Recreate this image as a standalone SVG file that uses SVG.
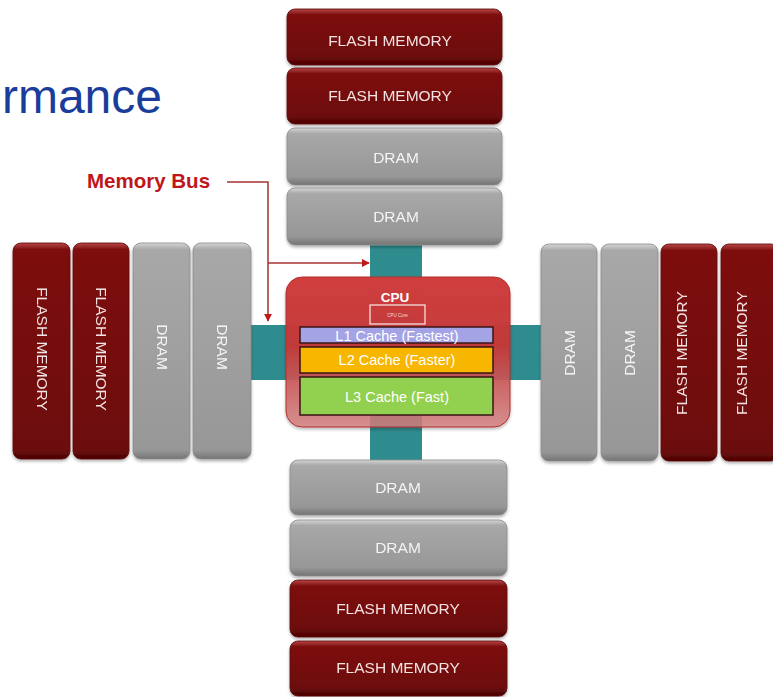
<svg xmlns="http://www.w3.org/2000/svg" width="773" height="697" viewBox="0 0 773 697">
<style>
.lbl{font-family:"Liberation Sans",Arial,sans-serif;font-size:15.5px;text-anchor:middle}
.fl{fill:#f3e2e2}
.dr{fill:#f4f4f4}
.cache{font-family:"Liberation Sans",Arial,sans-serif;font-size:14.5px;text-anchor:middle;fill:#ffffff}
.cstroke{stroke:#3a1414;stroke-width:1.5}
.bus{fill:#2f8c8e}
.conn{fill:none;stroke:#a83232;stroke-width:1.5}
.fbox{stroke:#5a0a0a;stroke-width:0.8}
.gbox{stroke:#8a8a8a;stroke-width:0.8}
</style>
<defs>
<linearGradient id="gRedH" x1="0" y1="0" x2="0" y2="1">
<stop offset="0" stop-color="#b84848"/><stop offset="0.1" stop-color="#7e1010"/><stop offset="0.85" stop-color="#6c0909"/><stop offset="1" stop-color="#4a0404"/>
</linearGradient>
<linearGradient id="gGrayH" x1="0" y1="0" x2="0" y2="1">
<stop offset="0" stop-color="#d6d6d6"/><stop offset="0.1" stop-color="#a8a8a8"/><stop offset="0.85" stop-color="#979797"/><stop offset="1" stop-color="#747474"/>
</linearGradient>
<linearGradient id="gRedV" x1="0" y1="0" x2="0" y2="1">
<stop offset="0" stop-color="#b84848"/><stop offset="0.03" stop-color="#7e1010"/><stop offset="0.96" stop-color="#6c0909"/><stop offset="1" stop-color="#4a0404"/>
</linearGradient>
<linearGradient id="gGrayV" x1="0" y1="0" x2="0" y2="1">
<stop offset="0" stop-color="#d6d6d6"/><stop offset="0.03" stop-color="#a8a8a8"/><stop offset="0.96" stop-color="#979797"/><stop offset="1" stop-color="#747474"/>
</linearGradient>
<linearGradient id="gCpu" x1="0" y1="0" x2="0" y2="1">
<stop offset="0" stop-color="#d03e3e" stop-opacity="1"/><stop offset="0.45" stop-color="#c43838" stop-opacity="0.97"/><stop offset="1" stop-color="#d48080" stop-opacity="0.82"/>
</linearGradient>
<filter id="sh" x="-10%" y="-10%" width="120%" height="130%">
<feDropShadow dx="0" dy="2" stdDeviation="1.5" flood-color="#000" flood-opacity="0.3"/>
</filter>
<marker id="ah" viewBox="0 0 10 10" refX="9" refY="5" markerWidth="8" markerHeight="8" markerUnits="userSpaceOnUse" orient="auto">
<path d="M0,0 L10,5 L0,10 z" fill="#c01818"/>
</marker>
</defs>
<rect width="773" height="697" fill="#ffffff"/>

<text x="162" y="113" font-family="'Liberation Sans',Arial,sans-serif" font-size="48" fill="#1a3d9c" text-anchor="end">rmance</text>

<g id="bus">
<rect class="bus" x="370" y="240" width="52" height="225"/>
<rect class="bus" x="248" y="325" width="296" height="55"/>
</g>

<g id="connectors">
<text x="87" y="188" font-family="'Liberation Sans',Arial,sans-serif" font-size="20.5" font-weight="bold" fill="#c0161b">Memory Bus</text>
<path class="conn" d="M227,182 H268 V321" marker-end="url(#ah)"/>
<path class="conn" d="M268,263 H369" marker-end="url(#ah)"/>
</g>

<!-- top stack -->
<g id="top-flash-1" filter="url(#sh)"><rect class="fbox" x="287" y="9" width="215" height="56" rx="8" fill="url(#gRedH)"/><text class="lbl fl" x="390" y="46">FLASH MEMORY</text></g>
<g id="top-flash-2" filter="url(#sh)"><rect class="fbox" x="287" y="68" width="215" height="56" rx="8" fill="url(#gRedH)"/><text class="lbl fl" x="390" y="101">FLASH MEMORY</text></g>
<g id="top-dram-1" filter="url(#sh)"><rect class="gbox" x="287" y="128" width="215" height="57" rx="8" fill="url(#gGrayH)"/><text class="lbl dr" x="396" y="163">DRAM</text></g>
<g id="top-dram-2" filter="url(#sh)"><rect class="gbox" x="287" y="188" width="215" height="57" rx="8" fill="url(#gGrayH)"/><text class="lbl dr" x="396" y="222">DRAM</text></g>

<!-- bottom stack -->
<g id="bottom-dram-1" filter="url(#sh)"><rect class="gbox" x="290" y="460" width="217" height="55" rx="8" fill="url(#gGrayH)"/><text class="lbl dr" x="398" y="493">DRAM</text></g>
<g id="bottom-dram-2" filter="url(#sh)"><rect class="gbox" x="290" y="520" width="217" height="56" rx="8" fill="url(#gGrayH)"/><text class="lbl dr" x="398" y="553">DRAM</text></g>
<g id="bottom-flash-1" filter="url(#sh)"><rect class="fbox" x="290" y="580" width="217" height="57" rx="8" fill="url(#gRedH)"/><text class="lbl fl" x="398" y="614">FLASH MEMORY</text></g>
<g id="bottom-flash-2" filter="url(#sh)"><rect class="fbox" x="290" y="641" width="217" height="55" rx="8" fill="url(#gRedH)"/><text class="lbl fl" x="398" y="673">FLASH MEMORY</text></g>

<!-- left stack -->
<g id="left-flash-1" filter="url(#sh)"><rect class="fbox" x="13" y="243" width="57" height="216" rx="8" fill="url(#gRedV)"/><text class="lbl fl" transform="translate(42,349) rotate(90)" x="0" y="5.5">FLASH MEMORY</text></g>
<g id="left-flash-2" filter="url(#sh)"><rect class="fbox" x="73" y="243" width="56" height="216" rx="8" fill="url(#gRedV)"/><text class="lbl fl" transform="translate(101,349) rotate(90)" x="0" y="5.5">FLASH MEMORY</text></g>
<g id="left-dram-1" filter="url(#sh)"><rect class="gbox" x="133" y="243" width="57" height="216" rx="8" fill="url(#gGrayV)"/><text class="lbl dr" transform="translate(162,347) rotate(90)" x="0" y="5.5">DRAM</text></g>
<g id="left-dram-2" filter="url(#sh)"><rect class="gbox" x="193" y="243" width="58" height="216" rx="8" fill="url(#gGrayV)"/><text class="lbl dr" transform="translate(222,347) rotate(90)" x="0" y="5.5">DRAM</text></g>

<!-- right stack -->
<g id="right-dram-1" filter="url(#sh)"><rect class="gbox" x="541" y="244" width="56" height="217" rx="8" fill="url(#gGrayV)"/><text class="lbl dr" transform="translate(569,353) rotate(-90)" x="0" y="5.5">DRAM</text></g>
<g id="right-dram-2" filter="url(#sh)"><rect class="gbox" x="601" y="244" width="57" height="217" rx="8" fill="url(#gGrayV)"/><text class="lbl dr" transform="translate(629,353) rotate(-90)" x="0" y="5.5">DRAM</text></g>
<g id="right-flash-1" filter="url(#sh)"><rect class="fbox" x="661" y="244" width="56" height="217" rx="8" fill="url(#gRedV)"/><text class="lbl fl" transform="translate(681,353) rotate(-90)" x="0" y="5.5">FLASH MEMORY</text></g>
<g id="right-flash-2" filter="url(#sh)"><rect class="fbox" x="721" y="244" width="58" height="217" rx="8" fill="url(#gRedV)"/><text class="lbl fl" transform="translate(741,353) rotate(-90)" x="0" y="5.5">FLASH MEMORY</text></g>

<!-- CPU -->
<g id="cpu">
<rect x="286" y="277" width="224" height="150" rx="16" fill="url(#gCpu)" stroke="#b03030" stroke-width="1" filter="url(#sh)"/>
<text x="395" y="302" font-family="'Liberation Sans',Arial,sans-serif" font-size="13.5" font-weight="bold" fill="#ffffff" text-anchor="middle">CPU</text>
<rect x="370" y="305" width="55" height="19" fill="none" stroke="#f4dede" stroke-width="1.3"/>
<text x="397.5" y="317" font-family="'Liberation Sans',Arial,sans-serif" font-size="4.5" fill="#f4dede" text-anchor="middle">CPU Core</text>
</g>
<g id="l1-cache"><rect class="cstroke" x="300" y="327" width="193" height="16" fill="#a3a3e6"/><text class="cache" x="397" y="341">L1 Cache (Fastest)</text></g>
<g id="l2-cache"><rect class="cstroke" x="300" y="347" width="193" height="26" fill="#f7b600"/><text class="cache" x="397" y="365">L2 Cache (Faster)</text></g>
<g id="l3-cache"><rect class="cstroke" x="300" y="377" width="193" height="38" fill="#92d050"/><text class="cache" x="397" y="402">L3 Cache (Fast)</text></g>
</svg>
